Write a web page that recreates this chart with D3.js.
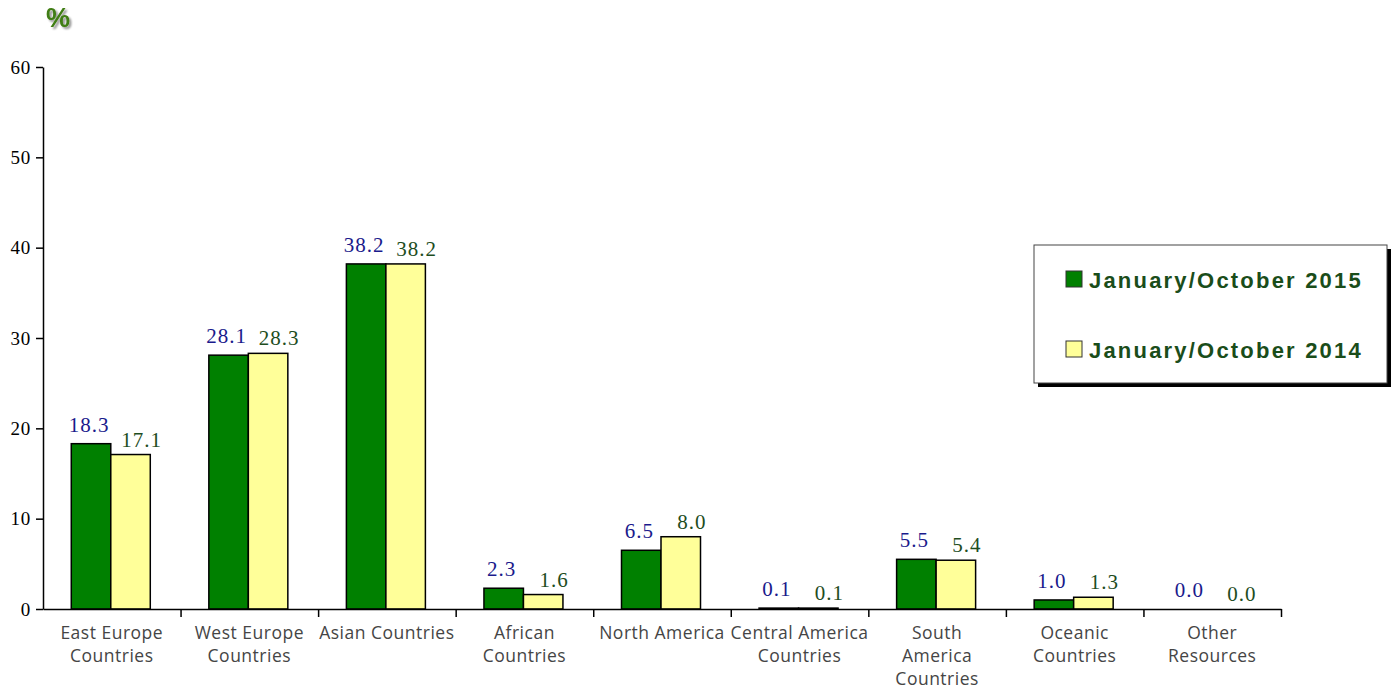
<!DOCTYPE html>
<html><head><meta charset="utf-8">
<script src="https://cdn.jsdelivr.net/npm/d3@7"></script>
<style>body{margin:0;background:#fff;}svg{display:block;}</style>
</head><body>
<svg id="c" width="1400" height="693"></svg>
<script>
const categories = [
  ["East Europe","Countries"],
  ["West Europe","Countries"],
  ["Asian Countries"],
  ["African","Countries"],
  ["North America"],
  ["Central America","Countries"],
  ["South","America","Countries"],
  ["Oceanic","Countries"],
  ["Other","Resources"]
];
const series2015 = [18.3, 28.1, 38.2, 2.3, 6.5, 0.1, 5.5, 1.0, 0.0];
const series2014 = [17.1, 28.3, 38.2, 1.6, 8.0, 0.1, 5.4, 1.3, 0.0];
const seriesNames = ["January/October 2015", "January/October 2014"];
const yTicks = [0, 10, 20, 30, 40, 50, 60];

(function () {
const svg = d3.select("#c");
const mLeft = 43, mRight = 1281, mTop = 67, mBottom = 609;
const x = d3.scaleBand().domain(d3.range(categories.length)).range([mLeft, mRight]).paddingInner(0).paddingOuter(0);
const y = d3.scaleLinear().domain([0, 60]).range([mBottom, mTop]);
const barW = 39.5;
const serif = "Liberation Serif, Times New Roman, serif";

svg.append("defs").html('<filter id="sh" x="-20%" y="-20%" width="160%" height="160%"><feGaussianBlur in="SourceAlpha" stdDeviation="1.2"/><feOffset dx="2" dy="2"/><feComponentTransfer><feFuncA type="linear" slope="0.45"/></feComponentTransfer><feMerge><feMergeNode/><feMergeNode in="SourceGraphic"/></feMerge></filter>');
svg.append("text").attr("x", 46).attr("y", 27).attr("font-family", "Liberation Sans, Arial, sans-serif")
  .attr("font-weight", "bold").attr("font-size", 27).attr("fill", "#3f7d12").attr("filter", "url(#sh)").text("%");

const yAxis = d3.axisLeft(y).tickValues(yTicks).tickSize(7).tickPadding(5).tickSizeOuter(0);
const gy = svg.append("g").attr("transform", `translate(${mLeft},0)`).call(yAxis);
gy.select(".domain").attr("stroke", "#000").attr("stroke-width", 1.5);
gy.selectAll(".tick line").attr("stroke", "#000").attr("stroke-width", 1.5);
gy.selectAll(".tick text").attr("font-family", serif).attr("font-size", 19).attr("letter-spacing", 0.8).attr("fill", "#000");

const g = svg.append("g");
categories.forEach((c, i) => {
  const cx = x(i) + x.bandwidth() / 2 - 1;
  g.append("rect").attr("x", cx - barW).attr("y", y(series2015[i])).attr("width", barW)
    .attr("height", y(0) - y(series2015[i])).attr("fill", "#008000").attr("stroke", "#000").attr("stroke-width", 1.5);
  g.append("rect").attr("x", cx).attr("y", y(series2014[i])).attr("width", barW)
    .attr("height", y(0) - y(series2014[i])).attr("fill", "#ffff99").attr("stroke", "#000").attr("stroke-width", 1.5);
  g.append("text").attr("x", cx - barW / 2 - 2).attr("y", y(series2015[i]) - 12).attr("text-anchor", "middle")
    .attr("font-family", serif).attr("font-size", 21).attr("letter-spacing", 1).attr("fill", "#1a1a8c")
    .text(series2015[i].toFixed(1));
  g.append("text").attr("x", cx + barW / 2 + 11).attr("y", y(series2014[i]) - 8).attr("text-anchor", "middle")
    .attr("font-family", serif).attr("font-size", 21).attr("letter-spacing", 1).attr("fill", "#1e4d1e")
    .text(series2014[i].toFixed(1));
});

const xAxis = d3.axisBottom(d3.scaleLinear().domain([0, categories.length]).range([mLeft, mRight]))
  .tickValues(d3.range(1, categories.length + 1)).tickSize(8).tickFormat("").tickSizeOuter(0);
const gx = svg.append("g").attr("transform", `translate(0,${mBottom})`).call(xAxis);
gx.select(".domain").attr("stroke", "#000").attr("stroke-width", 1.5);
gx.selectAll(".tick line").attr("stroke", "#000").attr("stroke-width", 1.5);

categories.forEach((c, i) => {
  const t = svg.append("text").attr("text-anchor", "middle")
    .attr("font-family", "Open Sans, Liberation Sans, sans-serif").attr("font-size", 17.5).attr("letter-spacing", 0.5).attr("fill", "#454545");
  c.forEach((line, k) => {
    t.append("tspan").attr("x", x(i) + x.bandwidth() / 2).attr("y", 639 + k * 23).text(line);
  });
});

const lg = svg.append("g");
lg.append("rect").attr("x", 1038).attr("y", 249).attr("width", 353).attr("height", 138).attr("fill", "#000");
lg.append("rect").attr("x", 1034).attr("y", 245).attr("width", 353).attr("height", 138).attr("fill", "#fff").attr("stroke", "#444").attr("stroke-width", 1);
const lcol = ["#008000", "#ffff99"];
seriesNames.forEach((n, k) => {
  const yy = 271 + k * 70;
  lg.append("rect").attr("x", 1066).attr("y", yy).attr("width", 16).attr("height", 16).attr("fill", lcol[k]).attr("stroke", "#333").attr("stroke-width", 1);
  lg.append("text").attr("x", 1089).attr("y", yy + 17).attr("font-family", "Liberation Sans, Arial, sans-serif")
    .attr("font-weight", "bold").attr("font-size", 22).attr("letter-spacing", 2.2).attr("fill", "#1a4d1a").text(n);
});
})();
</script>
</body></html>
